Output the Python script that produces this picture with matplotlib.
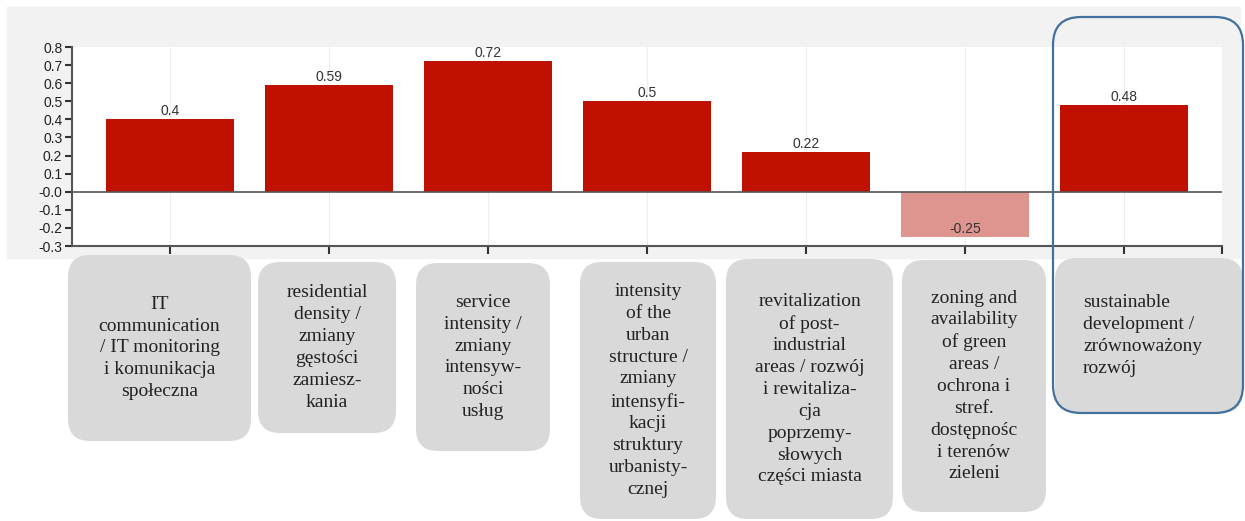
import matplotlib.pyplot as plt
from matplotlib.patches import Rectangle, FancyBboxPatch
from matplotlib.transforms import IdentityTransform

# data
values = [0.4, 0.59, 0.72, 0.5, 0.22, -0.25, 0.48]
labels = [
    "IT\ncommunication\n/ IT monitoring\ni komunikacja\nspołeczna",
    "residential\ndensity /\nzmiany\ngęstości\nzamiesz-\nkania",
    "service\nintensity /\nzmiany\nintensyw-\nności\nusług",
    "intensity\nof the\nurban\nstructure /\nzmiany\nintensyfi-\nkacji\nstruktury\nurbanisty-\ncznej",
    "revitalization\nof post-\nindustrial\nareas / rozwój\ni rewitaliza-\ncja\npoprzemy-\nsłowych\nczęści miasta",
    "zoning and\navailability\nof green\nareas /\nochrona i\nstref.\ndostępnośc\ni terenów\nzieleni",
    "sustainable\ndevelopment /\nzrównoważony\nrozwój",
]
y_ticks = [0.8, 0.7, 0.6, 0.5, 0.4, 0.3, 0.2, 0.1, 0.0, -0.1, -0.2, -0.3]
y_tick_labels = ["0.8", "0.7", "0.6", "0.5", "0.4", "0.3", "0.2", "0.1",
                 "-0.0", "-0.1", "-0.2", "-0.3"]

# layout of label boxes in pixels (left, top, right, bottom), top-down
box_px = [(68, 255, 251, 441), (258, 262, 396, 433), (416, 263, 550, 451),
          (580, 262, 716, 519), (726, 259, 893, 519), (902, 260, 1046, 512),
          (1055, 258, 1243, 413)]

W, H = 1245, 521
fig = plt.figure(figsize=(W / 100, H / 100), dpi=100)
fig.patch.set_facecolor("white")

# grey panel behind the chart
fig.patches.append(Rectangle((7 / W, 1 - 258 / H), 1233 / W, 251 / H,
                             transform=fig.transFigure, color="#F2F2F2", zorder=-1))

ax = fig.add_axes([72 / W, 1 - 246 / H, 1150 / W, 199 / H])
ax.set_facecolor("white")

x = list(range(len(values)))
colors = ["#C01000" if v >= 0 else "#DE9590" for v in values]
ax.bar(x, values, width=0.8, color=colors, zorder=2)
for xi, v in zip(x, values):
    ax.annotate(f"{v:g}", (xi, v), xytext=(0, 1), textcoords="offset points",
                ha="center", va="bottom", fontsize=10, color="#333333",
                family="Liberation Sans", zorder=3)

ax.axhline(0, color="#555555", lw=1.2, zorder=3)
for xi in x:
    ax.axvline(xi, color="#EDEDED", lw=0.8, zorder=1)

ax.set_xlim(-0.616, len(values) - 1 + 0.616)
ax.set_ylim(-0.3, 0.8)
ax.set_yticks(y_ticks)
ax.set_yticklabels(y_tick_labels, family="Liberation Sans", fontsize=10, color="#222222")
ax.set_xticks(x + [len(values) - 1 + 0.616])
ax.set_xticklabels([])
ax.tick_params(axis="y", length=5, width=1.5, color="#333333", pad=2)
ax.tick_params(axis="x", length=6, width=1.5, color="#333333")
for s in ["top", "right"]:
    ax.spines[s].set_visible(False)
for s in ["left", "bottom"]:
    ax.spines[s].set_color("#555555")
    ax.spines[s].set_linewidth(1.5)

# category boxes under the axis
for i, (lab, (l, t, r, b)) in enumerate(zip(labels, box_px)):
    box = FancyBboxPatch((l, H - b), r - l, b - t,
                         boxstyle="round,pad=0,rounding_size=22",
                         transform=IdentityTransform(), facecolor="#D9D9D9",
                         edgecolor="none", zorder=2)
    fig.patches.append(box)
    cy = H - (t + b) / 2
    if i == len(labels) - 1:
        fig.text((l + 28) / W, cy / H, lab, ha="left", va="center",
                 family="Liberation Serif", fontsize=14, color="#222222",
                 linespacing=1.37)
    else:
        fig.text((l + r) / 2 / W, cy / H, lab, ha="center", va="center",
                 family="Liberation Serif", fontsize=14, color="#222222",
                 linespacing=1.37, multialignment="center")

# blue highlight around the last category
fig.patches.append(FancyBboxPatch((1053, H - 413), 190, 396,
                                  boxstyle="round,pad=0,rounding_size=28",
                                  transform=IdentityTransform(), facecolor="none",
                                  edgecolor="#41719C", lw=1.6, zorder=5))

fig.savefig("out.png", dpi=100)
